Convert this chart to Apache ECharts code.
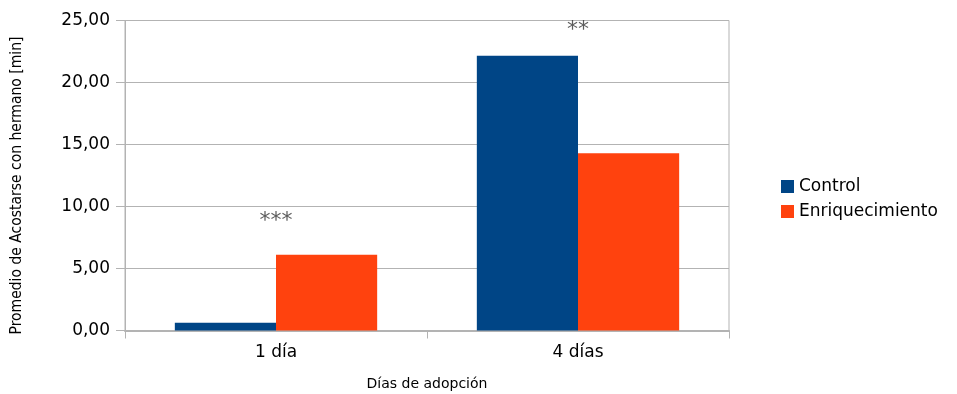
<!DOCTYPE html>
<html><head><meta charset="utf-8">
<script src="https://cdn.jsdelivr.net/npm/echarts@6/dist/echarts.min.js"></script>
<style>html,body{margin:0;padding:0;background:#fff}#c{width:957px;height:394px}</style>
</head><body><div id="c"></div>
<script>
const categories = ['1 día', '4 días'];
const controlValues = [0.63, 22.15];
const enriqValues = [6.1, 14.3];
const annotationTexts = ['***', '**'];
const annotationValues = [8.8, 24.2];
const yTicks = [0, 5, 10, 15, 20, 25];

const chart = echarts.init(document.getElementById('c'));
const fmt = v => v.toFixed(2).replace('.', ',');
chart.setOption({
  animation: false,
  backgroundColor: '#fff',
  textStyle: { fontFamily: 'DejaVu Sans' },
  grid: { left: 125, right: 228, top: 20.5, bottom: 63.5, containLabel: false, outerBoundsMode: 'none', show: true, borderColor: '#b3b3b3', borderWidth: 1 },
  legend: {
    data: ['Control', 'Enriquecimiento'],
    orient: 'vertical', left: 776, top: 173,
    itemWidth: 13, itemHeight: 13, itemGap: 8,
    icon: 'rect',
    textStyle: { fontSize: 17, color: '#000', fontFamily: 'DejaVu Sans' }
  },
  xAxis: {
    type: 'category', data: categories,
    name: 'Días de adopción', nameLocation: 'middle', nameGap: 47,
    nameTextStyle: { fontSize: 14, color: '#000' },
    axisLine: { lineStyle: { color: '#b3b3b3', width: 2 } },
    axisTick: { show: true, length: 8, lineStyle: { color: '#b3b3b3' } },
    axisLabel: { fontSize: 17, color: '#000', margin: 14 },
    splitLine: { show: false }
  },
  yAxis: {
    type: 'value', min: 0, max: 25, interval: 5,
    name: 'Promedio de Acostarse con hermano [min]', nameLocation: 'middle', nameGap: 100,
    nameTextStyle: { fontSize: 15.5, color: '#000', fontFamily: 'DejaVu Sans Condensed', padding: [0, 20, 0, 0] },
    axisLine: { show: true, lineStyle: { color: '#b3b3b3' } },
    axisTick: { show: true, length: 9, lineStyle: { color: '#b3b3b3' } },
    axisLabel: { fontSize: 17, color: '#000', margin: 15, formatter: v => yTicks.includes(v) ? fmt(v) : '' },
    splitLine: { lineStyle: { color: '#b3b3b3' } }
  },
  series: [
    { name: 'Control', type: 'bar', data: controlValues, itemStyle: { color: '#004586' }, barGap: '0%', barCategoryGap: '33%' },
    { name: 'Enriquecimiento', type: 'bar', data: enriqValues, itemStyle: { color: '#ff420e' } },
    { name: 'annot', type: 'scatter', data: annotationValues, symbolSize: 0, silent: true, z: 5,
      label: { show: true, position: 'inside', formatter: p => annotationTexts[p.dataIndex], fontSize: 22, color: '#333' } }
  ]
});
</script></body></html>
